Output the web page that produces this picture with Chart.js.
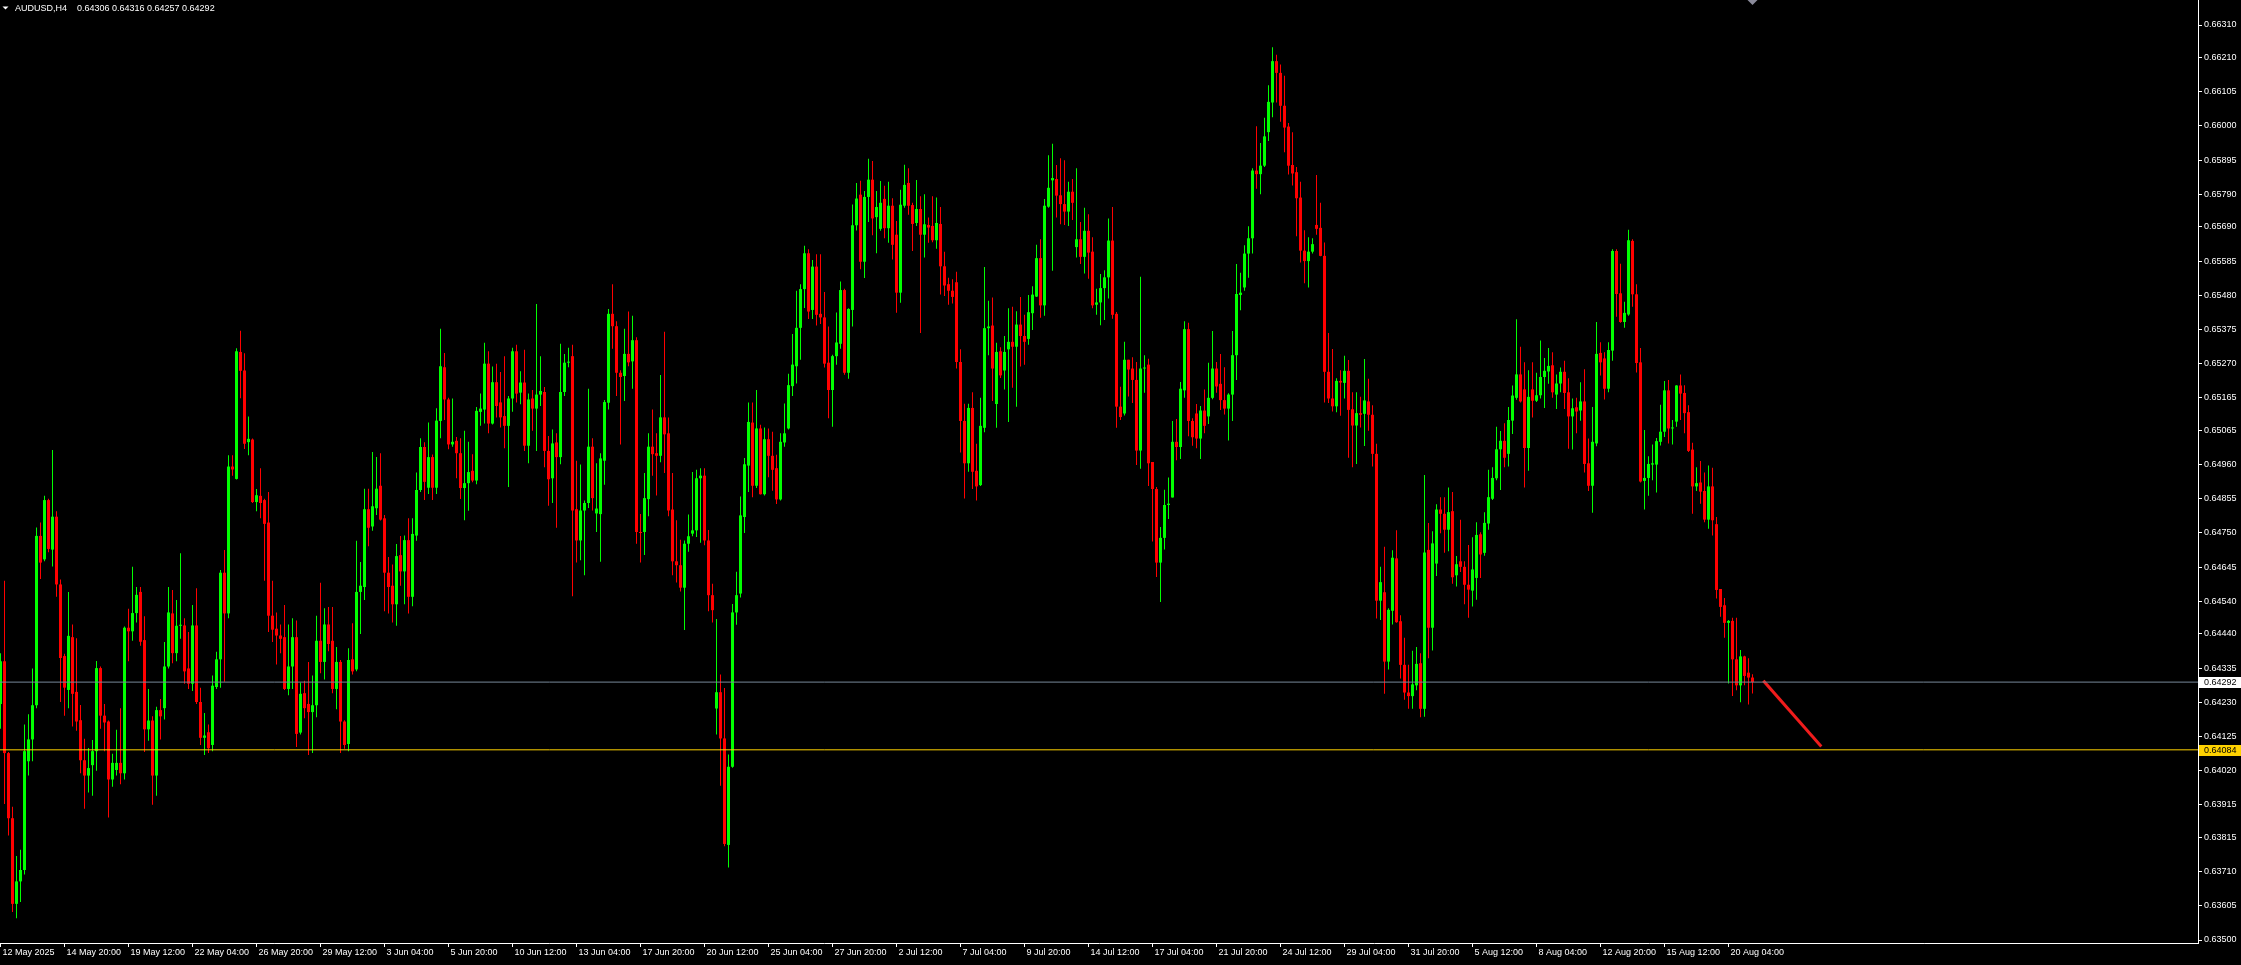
<!DOCTYPE html>
<html>
<head>
<meta charset="utf-8">
<title>AUDUSD,H4</title>
<script src="https://cdn.jsdelivr.net/npm/chart.js@4.4.1/dist/chart.umd.min.js"></script>
<style>
  html, body { margin: 0; padding: 0; background: #000; overflow: hidden; }
  canvas { display: block; background: #000; }
</style>
</head>
<body>
<canvas id="chart" width="2241" height="965"></canvas>
<script>
// AUDUSD H4 candles, prices in points (1 point = 0.00001)
const opens = [
  64225,64356,64074,63874,63611,63680,63715,64049,64116,64221,
  64741,64669,64851,64699,64800,64592,64372,64268,64430,64262,
  64175,64052,64005,64037,64080,64335,64189,64171,63993,64022,
  64044,64012,64459,64448,64504,64569,64421,64147,64174,64005,
  64206,64212,64340,64503,64381,64465,64466,64334,64287,64466,
  64231,64121,64138,64099,64277,64362,64628,64503,64954,64916,
  65306,65249,65029,65037,64845,64864,64851,64782,64496,64456,
  64435,64430,64271,64340,64430,64137,64258,64225,64200,64221,
  64419,64354,64469,64419,64271,64354,64171,64102,64362,64331,
  64569,64584,64823,64770,64826,64895,64795,64628,64588,64531,
  64682,64632,64728,64554,64742,64882,65014,64889,64983,64889,
  65094,65259,65160,65022,65033,64995,64888,64903,64941,64911,
  65122,65129,65270,65086,65213,65151,65109,65079,65163,65308,
  65181,65212,65018,65163,65132,65175,65183,65002,64918,65028,
  64983,65183,65273,65293,64823,64727,64819,64842,65015,64810,
  64808,64972,65150,65423,65385,65242,65232,65300,65277,65342,
  64753,64753,64854,65015,64995,64987,65105,65056,64822,64663,
  64651,64582,64717,64748,64758,64918,64926,64727,64559,64211,
  64261,64119,63792,64032,64506,64564,64799,64957,65089,64895,
  65071,64869,65038,64987,64949,64853,65028,65071,65201,65262,
  65380,65499,65609,65435,65568,65423,65412,65273,65189,65293,
  65331,65496,65242,65435,65695,65789,65583,65782,65835,65720,
  65684,65776,65686,65755,65666,65488,65755,65825,65757,65702,
  65745,65666,65696,65693,65649,65699,65569,65514,65494,65520,
  65275,65094,64964,65134,64941,64897,65073,65379,65387,65146,
  65308,65249,65314,65337,65322,65390,65355,65346,65425,65476,
  65594,65449,65752,65833,65837,65787,65760,65737,65798,65628,
  65652,65598,65678,65614,65451,65458,65502,65535,65648,65423,
  65138,65117,65282,65255,65220,65003,65255,65267,64968,64885,
  64659,64735,64836,64859,65030,65014,65188,65376,65094,65117,
  65040,65126,65108,65165,65255,65208,65158,65132,65175,65296,
  65481,65504,65608,65655,65863,65852,65878,65981,66072,66199,
  66163,66062,65998,65880,65858,65780,65617,65585,65614,65696,
  65687,65601,65245,65163,65139,65217,65211,65248,65130,65080,
  65118,65116,65154,65113,64993,64542,64568,64355,64511,64672,
  64479,64345,64260,64249,64282,64350,64210,64698,64459,64656,
  64822,64809,64760,64817,64620,64663,64646,64591,64573,64612,
  64746,64689,64779,64855,64918,65007,65033,64993,65095,65165,
  65237,65191,65011,65191,65156,65173,65229,65246,65265,65175,
  65209,65245,65182,65108,65136,65126,65154,64964,64895,65025,
  65303,65286,65193,65310,65616,65486,65398,65421,65647,65483,
  65274,64910,64919,64960,64960,65030,65061,65188,65071,65092,
  65203,65180,65121,65006,64893,64905,64879,64791,64893,64777,
  64578,64528,64474,64480,64362,64282,64371,64321,64306
];
const highs = [
  64381,64603,64077,63909,63758,63777,64162,64193,64334,64767,
  64782,64864,64855,65005,64817,64607,64379,64569,64469,64427,
  64222,64118,64090,64114,64357,64340,64225,64174,64072,64146,
  64212,64463,64517,64646,64584,64584,64494,64271,64187,64216,
  64240,64415,64584,64575,64544,64688,64488,64446,64529,64580,
  64275,64197,64162,64312,64385,64636,64698,64989,64989,65317,
  65371,65302,65108,65040,64885,64949,64855,64876,64603,64506,
  64469,64529,64469,64488,64481,64291,64296,64354,64312,64496,
  64597,64519,64523,64523,64400,64360,64175,64396,64473,64726,
  64661,64886,64886,64999,64983,64995,64805,64676,64653,64716,
  64741,64742,64795,64795,64936,65041,65029,65089,64991,65133,
  65377,65303,65165,65163,65045,65041,65064,65030,64992,65137,
  65178,65334,65308,65261,65270,65244,65293,65171,65319,65328,
  65247,65313,65178,65189,65453,65293,65198,65048,65068,65056,
  65331,65300,65319,65328,64972,64960,64850,65193,65041,64964,
  64995,65158,65438,65514,65400,65250,65377,65430,65417,65351,
  64808,64934,65056,65129,65056,65235,65368,65105,64934,64789,
  64729,64727,64807,64937,64944,64949,64949,64759,64594,64486,
  64315,64274,64070,64532,64631,64862,64980,65151,65151,65189,
  65082,65074,65071,65061,64990,65056,65148,65239,65361,65494,
  65514,65632,65621,65588,65606,65606,65490,65384,65297,65427,
  65522,65500,65440,65759,65825,65832,65800,65899,65892,65800,
  65831,65816,65829,65778,65708,65804,65881,65870,65764,65834,
  65784,65790,65719,65784,65780,65751,65614,65534,65529,65552,
  65314,65147,65147,65182,65024,65165,65567,65463,65473,65334,
  65320,65355,65440,65445,65431,65475,65420,65481,65508,65635,
  65652,65776,65910,65945,65880,65901,65895,65829,65837,65870,
  65705,65749,65729,65658,65500,65545,65557,65716,65751,65429,
  65199,65337,65282,65290,65275,65537,65296,65285,64968,64891,
  64768,64883,64920,65094,65100,65214,65400,65396,65102,65146,
  65140,65191,65273,65370,65275,65300,65259,65179,65370,65576,
  65549,65634,65692,65870,65999,65948,66025,66125,66242,66219,
  66189,66154,66009,65981,65874,65829,65680,65658,65655,65849,
  65764,65642,65364,65315,65225,65250,65294,65281,65182,65182,
  65168,65284,65224,65142,65024,64646,64708,64519,64697,64758,
  64497,64428,64345,64388,64400,64381,64928,64781,64755,64838,
  64860,64860,64890,64876,64679,64791,64663,64713,64737,64783,
  64752,64814,64944,64952,65076,65063,65087,65137,65203,65406,
  65322,65274,65250,65274,65242,65341,65287,65318,65305,65237,
  65258,65279,65225,65163,65165,65213,65253,65040,65137,65398,
  65336,65305,65336,65621,65621,65577,65460,65681,65652,65514,
  65318,65066,64986,65022,65042,65144,65217,65220,65097,65204,
  65237,65204,65142,65027,64952,64971,64936,64957,64950,64799,
  64578,64550,64483,64490,64490,64391,64373,64365,64316
];
const lows = [
  64149,63918,63821,63586,63567,63617,63701,64005,64049,64212,
  64609,64663,64691,64647,64554,64231,64189,64212,64156,64143,
  64012,63903,63953,63943,64020,64149,64080,63876,63971,64005,
  63978,63993,64356,64419,64475,64404,64077,64112,63915,63943,
  64116,64177,64334,64350,64356,64425,64287,64271,64265,64225,
  64099,64068,64074,64080,64271,64275,64293,64488,64926,64914,
  65164,65008,64989,64842,64817,64795,64603,64446,64415,64346,
  64381,64268,64252,64271,64093,64131,64181,64068,64074,64184,
  64319,64300,64387,64258,64209,64074,64087,64080,64315,64325,
  64440,64544,64709,64757,64805,64788,64510,64503,64475,64465,
  64588,64531,64503,64525,64726,64876,64851,64870,64851,64870,
  65041,65097,65007,65015,64918,64854,64789,64818,64906,64900,
  65079,65086,65056,65083,65105,65074,65010,64891,65122,65151,
  65145,65002,64964,65064,65002,65140,64952,64834,64842,64766,
  64961,65171,65259,64556,64659,64666,64620,64827,64819,64753,
  64662,64898,65129,65316,65171,65022,65155,65262,65193,64717,
  64659,64682,64801,64926,64865,64967,64934,64801,64620,64598,
  64570,64452,64692,64740,64738,64720,64712,64510,64475,64131,
  63974,63788,63723,64029,64468,64552,64750,64876,64860,64888,
  64868,64865,64921,64880,64839,64850,65015,65068,65171,65209,
  65282,65441,65407,65407,65387,65392,65258,65102,65076,65267,
  65316,65236,65224,65384,65679,65560,65533,65705,65664,65609,
  65678,65655,65641,65590,65426,65457,65749,65727,65616,65693,
  65364,65596,65641,65643,65623,65482,65478,65451,65455,65255,
  64997,64856,64938,64885,64850,64894,65059,65296,65155,65073,
  65226,65191,65091,65196,65138,65261,65267,65328,65373,65475,
  65411,65417,65749,65555,65719,65698,65696,65693,65711,65596,
  65576,65547,65531,65440,65420,65388,65404,65470,65408,65073,
  65097,65111,65169,65149,64959,64947,65181,64894,64724,64615,
  64538,64699,64793,64859,64973,64977,65165,65047,65018,65010,
  64977,65056,65085,65161,65181,65128,65114,65034,65094,65220,
  65434,65494,65534,65608,65807,65790,65874,65954,66027,66072,
  66013,65919,65851,65817,65661,65581,65517,65504,65608,65666,
  65600,65151,65149,65123,65121,65110,65163,64981,64952,64962,
  65074,65017,65064,64954,64487,64483,64256,64331,64469,64474,
  64303,64238,64210,64210,64267,64184,64186,64365,64389,64618,
  64749,64689,64694,64594,64586,64630,64531,64490,64524,64545,
  64612,64680,64760,64851,64912,64882,64952,64954,65054,65159,
  65151,64890,64941,65105,65152,65163,65134,65208,65165,65131,
  65182,65131,65009,65006,65056,65095,64936,64879,64812,65016,
  65234,65160,65182,65279,65414,65396,65380,65417,65445,65243,
  64905,64822,64864,64912,64874,65019,65045,65025,65022,65076,
  65097,65056,64999,64809,64879,64840,64783,64763,64742,64549,
  64493,64428,64288,64249,64267,64230,64282,64223,64257
];
const closes = [
  64356,64074,63874,63611,63680,63715,64080,64116,64221,64741,
  64659,64851,64701,64800,64592,64366,64275,64434,64256,64171,
  64052,64005,64028,64080,64335,64189,64168,63993,64044,64044,
  64012,64459,64448,64504,64560,64416,64147,64174,64005,64206,
  64187,64340,64506,64381,64465,64468,64325,64287,64466,64231,
  64121,64128,64089,64281,64362,64628,64503,64954,64945,65308,
  65248,65024,65039,64845,64866,64842,64778,64496,64453,64435,
  64425,64271,64340,64430,64133,64256,64212,64200,64221,64419,
  64354,64469,64409,64271,64354,64171,64099,64360,64325,64569,
  64588,64823,64766,64832,64886,64791,64628,64584,64531,64679,
  64632,64728,64554,64747,64882,65014,64907,64983,64889,65095,
  65262,65160,65022,65030,64995,64888,64903,64937,64911,65125,
  65132,65270,65086,65213,65140,65105,65079,65163,65308,65178,
  65212,65018,65160,65132,65175,65186,65002,64915,65025,64983,
  65183,65273,65276,64819,64727,64819,64842,65015,64857,64825,
  64979,65152,65423,65385,65242,65229,65300,65274,65342,64753,
  64750,64857,65015,64992,64987,65105,65053,64819,64663,64651,
  64582,64717,64740,64758,64918,64926,64727,64559,64513,64261,
  64119,63795,64032,64506,64559,64804,64961,65091,64895,65071,
  64869,65038,64987,64944,64853,65030,65056,65204,65267,65380,
  65499,65609,65430,65568,65420,65412,65270,65189,65293,65335,
  65496,65242,65438,65695,65777,65583,65782,65835,65716,65751,
  65764,65686,65755,65635,65488,65758,65819,65755,65699,65745,
  65666,65698,65688,65649,65702,65569,65510,65494,65475,65275,
  65094,64964,65134,64938,64893,65079,65379,65384,65255,65306,
  65234,65306,65337,65322,65390,65355,65337,65428,65482,65594,
  65449,65755,65810,65840,65786,65760,65737,65798,65764,65652,
  65598,65678,65611,65449,65458,65502,65535,65648,65420,65138,
  65106,65282,65252,65220,65003,65255,65257,64964,64885,64659,
  64735,64836,64840,65030,65014,65193,65376,65094,65044,65040,
  65126,65079,65165,65255,65200,65158,65132,65175,65296,65484,
  65488,65608,65655,65863,65852,65878,65968,66074,66199,66163,
  66062,65995,65878,65854,65778,65617,65585,65614,65637,65684,
  65601,65245,65163,65139,65217,65212,65248,65128,65080,65118,
  65113,65157,65113,64993,64542,64599,64355,64514,64674,64476,
  64345,64260,64249,64285,64348,64210,64690,64459,64718,64822,
  64809,64760,64814,64614,64654,64646,64591,64576,64638,64744,
  64684,64781,64860,64919,65007,65033,64981,65097,65172,65237,
  65154,65011,65168,65156,65173,65229,65248,65263,65182,65209,
  65245,65180,65108,65133,65123,65154,64962,64895,65030,65300,
  65274,65193,65312,65616,65484,65398,65426,65649,65483,65272,
  64908,64919,64962,64964,65032,65061,65188,65071,65073,65203,
  65178,65118,65002,64893,64903,64877,64791,64893,64789,64575,
  64523,64474,64480,64362,64282,64371,64311,64306,64292
];

// time axis labels, one every 16 bars
const xTickIdx = [0,16,32,48,64,80,96,112,128,144,160,176,192,208,224,240,256,272,288,304,320,336,352,368,384,400,416,432];
const xTickLabels = [
  "12 May 2025","14 May 20:00","19 May 12:00","22 May 04:00","26 May 20:00","29 May 12:00",
  "3 Jun 04:00","5 Jun 20:00","10 Jun 12:00","13 Jun 04:00","17 Jun 20:00","20 Jun 12:00",
  "25 Jun 04:00","27 Jun 20:00","2 Jul 12:00","7 Jul 04:00","9 Jul 20:00","14 Jul 12:00",
  "17 Jul 04:00","21 Jul 20:00","24 Jul 12:00","29 Jul 04:00","31 Jul 20:00","5 Aug 12:00",
  "8 Aug 04:00","12 Aug 20:00","15 Aug 12:00","20 Aug 04:00"
];
// price scale labels (points)
const yTicks = [66310,66210,66105,66000,65895,65790,65690,65585,65480,65375,65270,65165,65065,64960,
  64855,64750,64645,64540,64440,64335,64230,64125,64020,63915,63815,63710,63605,63500];

const bidPrice = 64292;      // current bid line
const levelPrice = 64084;    // horizontal support level
const trendIdx = [440.95, 454.95];
const trendPrice = [64293, 64098];
const symbol = "AUDUSD,H4";

const P = v => v / 1e5;
const FONT = '9px "Liberation Sans", Arial, sans-serif';
const X_MIN = -0.125, X_MAX = 549.375;

const candleColors = closes.map((c, i) => (c >= opens[i] ? "#00ff00" : "#ff0000"));
const wickData = highs.map((h, i) => ({ x: i, y: [P(lows[i]), P(h)] }));
const bodyData = opens.map((o, i) => ({ x: i, y: [P(o), P(closes[i])] }));

const overlay = {
  id: "overlay",
  afterDraw(chart) {
    const { ctx, chartArea, scales } = chart;
    const y = scales.y;
    ctx.save();
    ctx.font = FONT;

    // chart header
    ctx.fillStyle = "#fff";
    ctx.beginPath();
    ctx.moveTo(2.5, 6.5); ctx.lineTo(8.5, 6.5); ctx.lineTo(5.5, 9.5); ctx.closePath();
    ctx.fill();
    ctx.textBaseline = "alphabetic";
    const last = opens.length - 1;
    ctx.fillText(symbol, 15, 11);
    ctx.fillText([opens[last], highs[last], lows[last], closes[last]].map(v => P(v).toFixed(5)).join(" "), 77, 11);

    // chart shift marker
    const sx = scales.x.getPixelForValue(last);
    ctx.fillStyle = "#8a8a9a";
    ctx.beginPath();
    ctx.moveTo(sx - 5, 0); ctx.lineTo(sx + 5, 0); ctx.lineTo(sx, 5); ctx.closePath();
    ctx.fill();

    // price tags on the scale
    const tag = (price, bg) => {
      const py = Math.round(y.getPixelForValue(P(price)));
      ctx.fillStyle = bg;
      ctx.fillRect(chartArea.right + 1, py - 5, chart.width - chartArea.right - 1, 11);
      ctx.fillStyle = "#000";
      ctx.textBaseline = "middle";
      ctx.fillText(P(price).toFixed(5), chartArea.right + 6, py + 0.5);
    };
    tag(bidPrice, "#ffffff");
    tag(levelPrice, "#ffd200");
    ctx.restore();
  }
};

new Chart(document.getElementById("chart"), {
  type: "bar",
  data: {
    datasets: [
      {
        type: "line", order: 0,
        data: [{ x: X_MIN, y: P(bidPrice) }, { x: X_MAX, y: P(bidPrice) }],
        borderColor: "#778899", borderWidth: 1, pointRadius: 0
      },
      {
        type: "line", order: 0,
        data: [{ x: X_MIN, y: P(levelPrice) }, { x: X_MAX, y: P(levelPrice) }],
        borderColor: "#ffd200", borderWidth: 1, pointRadius: 0
      },
      {
        type: "line", order: 0,
        data: trendIdx.map((x, i) => ({ x, y: P(trendPrice[i]) })),
        borderColor: "#f01c1c", borderWidth: 3, borderCapStyle: "square", pointRadius: 0
      },
      {
        order: 2, data: wickData, backgroundColor: candleColors,
        barThickness: 1, grouped: false, borderWidth: 0, inflateAmount: 0
      },
      {
        order: 1, data: bodyData, backgroundColor: candleColors,
        barThickness: 3, grouped: false, borderWidth: 0, inflateAmount: 0, minBarLength: 1
      }
    ]
  },
  options: {
    responsive: false,
    animation: false,
    devicePixelRatio: 1,
    events: [],
    layout: { padding: 0 },
    plugins: { legend: { display: false }, tooltip: { enabled: false } },
    scales: {
      x: {
        type: "linear", min: X_MIN, max: X_MAX, offset: false,
        grid: { drawOnChartArea: false, drawTicks: true, tickLength: 4, color: "#fff", offset: false },
        border: { color: "#fff", width: 1 },
        afterBuildTicks: s => { s.ticks = xTickIdx.map(v => ({ value: v })); },
        afterFit: s => { s.height = 22; s.paddingLeft = 0; s.paddingRight = 0; },
        ticks: {
          autoSkip: false, maxRotation: 0, minRotation: 0, align: "start",
          padding: 0, labelOffset: 2, color: "#fff",
          font: { family: '"Liberation Sans", Arial, sans-serif', size: 9 },
          callback: (v, i) => xTickLabels[i]
        }
      },
      y: {
        position: "right", min: 0.634908, max: 0.663868,
        grid: { drawOnChartArea: false, drawTicks: true, tickLength: 4, color: "#fff" },
        border: { color: "#fff", width: 1 },
        afterBuildTicks: s => { s.ticks = yTicks.map(v => ({ value: P(v) })); },
        afterFit: s => { s.width = 43; s.paddingTop = 0; s.paddingBottom = 0; },
        ticks: {
          autoSkip: false, padding: 2, color: "#fff", crossAlign: "near",
          font: { family: '"Liberation Sans", Arial, sans-serif', size: 9 },
          callback: v => v.toFixed(5)
        }
      }
    }
  },
  plugins: [overlay]
});
</script>
</body>
</html>
